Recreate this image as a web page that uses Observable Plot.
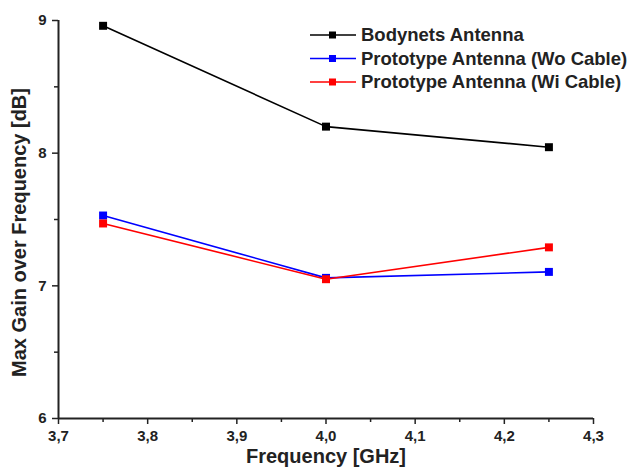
<!DOCTYPE html>
<html><head><meta charset="utf-8">
<script src="https://cdn.jsdelivr.net/npm/d3@7"></script>
<script src="https://cdn.jsdelivr.net/npm/@observablehq/plot@0.6"></script>
<style>body{margin:0;background:#fff}</style>
</head><body><div id="chart"></div>
<script>
const frequencies = [3.75, 4.0, 4.25];
const seriesNames = ["Bodynets Antenna", "Prototype Antenna (Wo Cable)", "Prototype Antenna (Wi Cable)"];
const seriesColors = ["#000000", "#0000ff", "#ff0000"];
const bodynets = [8.96, 8.20, 8.045];
const protoWoCable = [7.53, 7.06, 7.105];
const protoWiCable = [7.47, 7.05, 7.29];
const xTicks = [3.7, 3.8, 3.9, 4.0, 4.1, 4.2, 4.3];
const xMinorTicks = [3.75, 3.85, 3.95, 4.05, 4.15, 4.25];
const yTicks = [6, 7, 8, 9];
const yMinorTicks = [6.5, 7.5, 8.5];
const xTitle = "Frequency [GHz]";
const yTitle = "Max Gain over Frequency [dB]";

const seriesValues = [bodynets, protoWoCable, protoWiCable];
const data = seriesNames.flatMap((s, i) => frequencies.map((f, j) => ({series: s, f, g: seriesValues[i][j]})));

const font = "'Liberation Sans', Arial, sans-serif";
const plot = Plot.plot({
  width: 628, height: 472,
  marginLeft: 58, marginRight: 35, marginTop: 20, marginBottom: 54,
  x: {domain: [3.7, 4.3]},
  y: {domain: [6, 9]},
  color: {domain: seriesNames, range: seriesColors},
  style: {fontFamily: font, fontWeight: "bold", fontSize: "15px", color: "#000", background: "#fff"},
  marks: [
    Plot.axisX(xTicks, {tickFormat: d => d.toFixed(1).replace(".", ","), tickSize: 6, tickPadding: 6, label: null, stroke: "#222", strokeWidth: 1.5, fill: "#222"}),
    Plot.axisX(xMinorTicks, {tickFormat: () => "", tickSize: 4, label: null, stroke: "#222", strokeWidth: 1.5}),
    Plot.axisY(yTicks, {tickFormat: d => String(d), tickSize: 6, tickPadding: 6, label: null, stroke: "#222", strokeWidth: 1.5, fill: "#222"}),
    Plot.axisY(yMinorTicks, {tickFormat: () => "", tickSize: 4, label: null, stroke: "#222", strokeWidth: 1.5}),
    Plot.ruleX([3.7], {stroke: "#222", strokeWidth: 2}),
    Plot.ruleY([6], {stroke: "#222", strokeWidth: 2}),
    Plot.lineY(data, {x: "f", y: "g", z: "series", stroke: "series", strokeWidth: 1.6}),
    Plot.dot(data, {x: "f", y: "g", fill: "series", symbol: "square", r: 4.5}),
    Plot.text([yTitle], {frameAnchor: "left", textAnchor: "middle", rotate: -90, dx: -39, dy: 13, fontSize: 20, fill: "#222"}),
    Plot.text([xTitle], {frameAnchor: "bottom", textAnchor: "middle", dy: 44, fontSize: 20, fill: "#222"})
  ]
});

// Legend (top right, inside the frame)
const svg = d3.select(plot);
const lg = svg.append("g").attr("font-family", font).attr("font-weight", "bold").attr("font-size", 18.5).attr("text-anchor", "start");
seriesNames.forEach((name, i) => {
  const y = 35 + i * 23.5;
  lg.append("line").attr("x1", 310).attr("x2", 356).attr("y1", y).attr("y2", y)
    .attr("stroke", seriesColors[i]).attr("stroke-width", 1.6);
  lg.append("rect").attr("x", 329).attr("y", y - 3.5).attr("width", 7).attr("height", 7).attr("fill", seriesColors[i]);
  lg.append("text").attr("x", 361).attr("y", y).attr("dy", "0.35em").attr("fill", "#222").text(name);
});

document.getElementById("chart").appendChild(plot);
</script>
</body></html>
